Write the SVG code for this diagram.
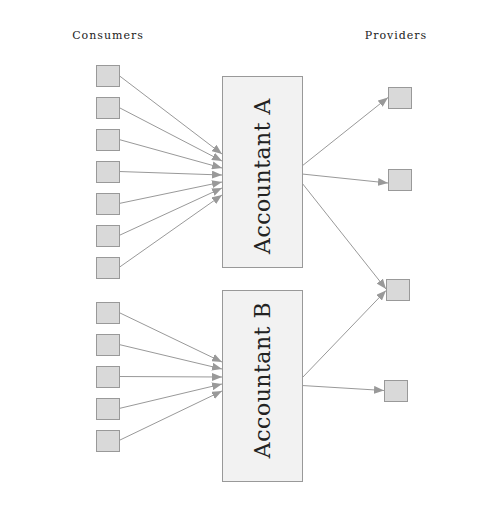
<svg xmlns="http://www.w3.org/2000/svg" width="500" height="526" viewBox="0 0 500 526">
<style>
.bg{fill:#ffffff}
.small{fill:#d9d9d9;stroke:#999999;stroke-width:1}
.acc{fill:#f2f2f2;stroke:#999999;stroke-width:1}
.head{font-family:"DejaVu Serif","Liberation Serif",serif;font-size:11px;fill:#222222;text-anchor:middle;letter-spacing:1px}
.lbl{font-family:"DejaVu Serif","Liberation Serif",serif;font-size:22px;fill:#222222;text-anchor:middle;dominant-baseline:central;letter-spacing:0.5px}
.edge{stroke:#999999;stroke-width:1;fill:none;marker-end:url(#arr)}
</style>
<defs>
<marker id="arr" markerUnits="userSpaceOnUse" markerWidth="10" markerHeight="8" refX="10" refY="4" orient="auto" viewBox="0 0 10 8">
<path d="M0,0 L10,4 L0,8 z" fill="#999999"/>
</marker>
</defs>
<rect class="bg" x="0" y="0" width="500" height="526"/>
<text class="head" x="108" y="39">Consumers</text>
<text class="head" x="396" y="39">Providers</text>
<g id="connectors">
<line class="edge" x1="119" y1="75.5" x2="222" y2="154"/>
<line class="edge" x1="119" y1="107.5" x2="222" y2="161"/>
<line class="edge" x1="119" y1="139.5" x2="222" y2="168"/>
<line class="edge" x1="119" y1="171.5" x2="222" y2="175"/>
<line class="edge" x1="119" y1="203.5" x2="222" y2="182"/>
<line class="edge" x1="119" y1="235.5" x2="222" y2="188"/>
<line class="edge" x1="119" y1="267.5" x2="222" y2="195"/>
<line class="edge" x1="119" y1="312.5" x2="222" y2="362"/>
<line class="edge" x1="119" y1="344.5" x2="222" y2="369"/>
<line class="edge" x1="119" y1="376.5" x2="222" y2="377"/>
<line class="edge" x1="119" y1="408.5" x2="222" y2="384"/>
<line class="edge" x1="119" y1="440.5" x2="222" y2="391"/>
<line class="edge" x1="302" y1="166" x2="388" y2="97.5"/>
<line class="edge" x1="302" y1="174" x2="388" y2="183"/>
<line class="edge" x1="302" y1="183" x2="386" y2="289"/>
<line class="edge" x1="302" y1="378" x2="386" y2="290.5"/>
<line class="edge" x1="302" y1="385.5" x2="384" y2="390.5"/>
</g>
<g id="c1"><rect class="small" x="96.5" y="65.5" width="23" height="21"/></g>
<g id="c2"><rect class="small" x="96.5" y="97.5" width="23" height="21"/></g>
<g id="c3"><rect class="small" x="96.5" y="129.5" width="23" height="21"/></g>
<g id="c4"><rect class="small" x="96.5" y="161.5" width="23" height="21"/></g>
<g id="c5"><rect class="small" x="96.5" y="193.5" width="23" height="21"/></g>
<g id="c6"><rect class="small" x="96.5" y="225.5" width="23" height="21"/></g>
<g id="c7"><rect class="small" x="96.5" y="257.5" width="23" height="21"/></g>
<g id="c8"><rect class="small" x="96.5" y="302.5" width="23" height="21"/></g>
<g id="c9"><rect class="small" x="96.5" y="334.5" width="23" height="21"/></g>
<g id="c10"><rect class="small" x="96.5" y="366.5" width="23" height="21"/></g>
<g id="c11"><rect class="small" x="96.5" y="398.5" width="23" height="21"/></g>
<g id="c12"><rect class="small" x="96.5" y="430.5" width="23" height="21"/></g>
<g id="accountantA"><rect class="acc" x="222.5" y="76.5" width="80" height="191"/><text class="lbl" transform="translate(262.5,176) rotate(-90)">Accountant A</text></g>
<g id="accountantB"><rect class="acc" x="222.5" y="290.5" width="80" height="191"/><text class="lbl" transform="translate(262.5,380) rotate(-90)">Accountant B</text></g>
<g id="p1"><rect class="small" x="388.5" y="87.5" width="23" height="21"/></g>
<g id="p2"><rect class="small" x="388.5" y="169.5" width="23" height="21"/></g>
<g id="p3"><rect class="small" x="386.5" y="279.5" width="23" height="21"/></g>
<g id="p4"><rect class="small" x="384.5" y="380.5" width="23" height="21"/></g>
</svg>
